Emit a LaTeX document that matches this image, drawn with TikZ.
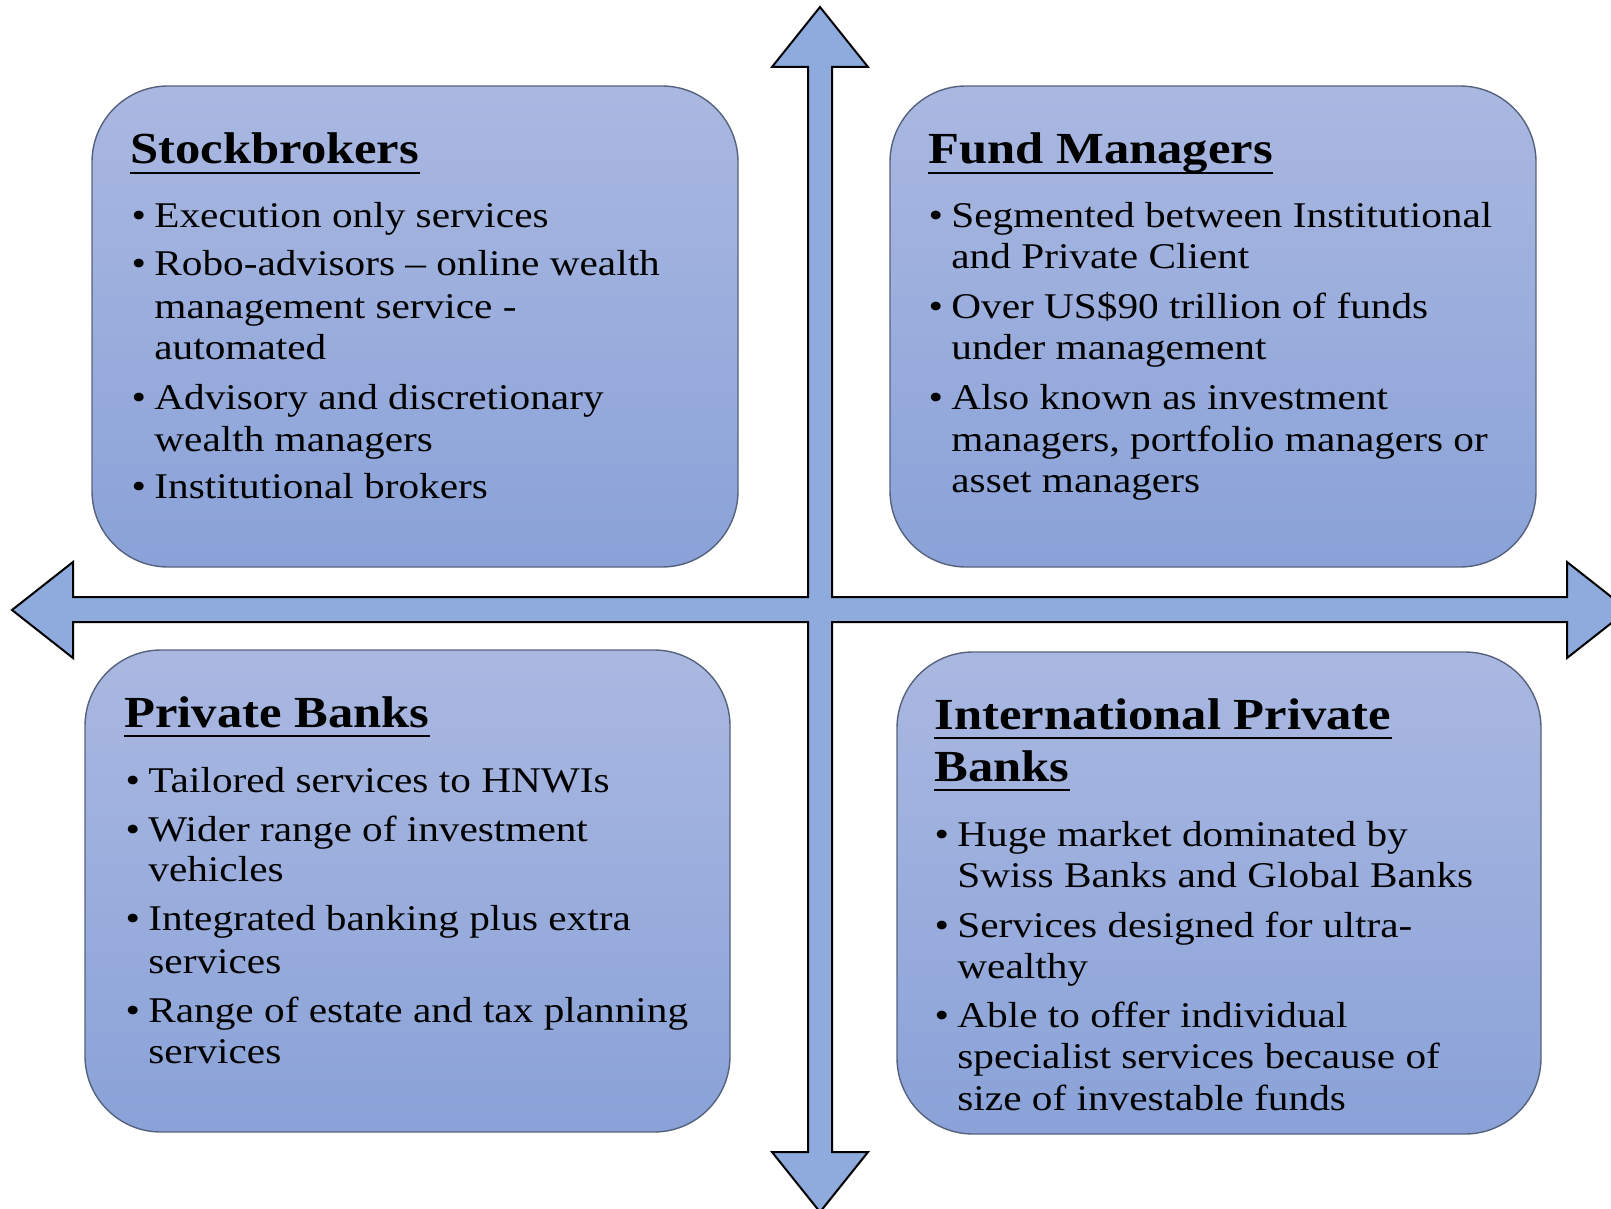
\documentclass[tikz,border=0pt]{standalone}
\usepackage{fontspec}
\setmainfont{Liberation Serif}[FakeStretch=1.14]
\definecolor{arrowfill}{HTML}{8FAADC}
\definecolor{boxtop}{HTML}{AAB8E1}
\definecolor{boxbot}{HTML}{8AA2D8}
\definecolor{boxline}{HTML}{56627C}
\tikzset{
  quad/.style={rectangle, rounded corners=38pt, draw=boxline, line width=0.7pt,
    top color=boxtop, bottom color=boxbot, inner sep=0pt},
  body/.style={anchor=base west, inner sep=0pt, font=\fontsize{18.1}{21}\selectfont},
  ttl/.style={anchor=base west, inner sep=0pt, font=\fontsize{22.2}{26}\selectfont\bfseries},
  uline/.style={line width=1.25pt},
  bigarrow/.style={draw=black, line width=1pt, fill=arrowfill, line join=miter}
}
\newcommand{\bul}{\llap{\textbullet\hspace{4.2pt}}}
\begin{document}
\begin{tikzpicture}[x=0.5pt,y=-0.5pt]
\useasboundingbox (0,0) rectangle (1611,1209);
% cross arrow
\draw[bigarrow] (820,7) -- (868,67) -- (832,67) -- (832,597) -- (1567,597) -- (1567,562) -- (1628,610) -- (1567,658) -- (1567,622) -- (832,622) -- (832,1152) -- (868,1152) -- (820,1212) -- (772,1152) -- (808,1152) -- (808,622) -- (73,622) -- (73,658) -- (12,610) -- (73,562) -- (73,597) -- (808,597) -- (808,67) -- (772,67) -- cycle;
% boxes
\node[quad, minimum width=323pt, minimum height=240.5pt] (tlbox) at (415,326.5) {};
\node[quad, minimum width=323pt, minimum height=240.5pt] (trbox) at (1213,326.5) {};
\node[quad, minimum width=322.5pt, minimum height=241pt] (blbox) at (407.5,891) {};
\node[quad, minimum width=322pt, minimum height=241pt] (brbox) at (1219,893) {};
% titles
\node[ttl] (t1) at (130,164) {Stockbrokers};
\node[ttl] (t2) at (928,164) {Fund Managers};
\node[ttl] (t3) at (124,727) {Private Banks};
\node[ttl] (t4a) at (934,729) {International Private};
\node[ttl] (t4b) at (934,781) {Banks};
\foreach \n in {t1,t2,t3,t4a,t4b}
  \draw[uline] ([yshift=-4.5pt]\n.base west) -- ([yshift=-4.5pt]\n.base east);
% top-left
\node[body] (a1) at (154,228) {\bul Execution only services};
\node[body] (a2) at (154,276) {\bul Robo-advisors – online wealth};
\node[body] (a3) at (154,318) {management service -};
\node[body] (a4) at (154,359) {automated};
\node[body] (a5) at (154,409) {\bul Advisory and discretionary};
\node[body] (a6) at (154,451) {wealth managers};
\node[body] (a7) at (154,498) {\bul Institutional brokers};
% top-right
\node[body] (b1) at (951,228) {\bul Segmented between Institutional};
\node[body] (b2) at (951,269) {and Private Client};
\node[body] (b3) at (951,318) {\bul Over US\$90 trillion of funds};
\node[body] (b4) at (951,359) {under management};
\node[body] (b5) at (951,409) {\bul Also known as investment};
\node[body] (b6) at (951,451) {managers, portfolio managers or};
\node[body] (b7) at (951,492) {asset managers};
% bottom-left
\node[body] (c1) at (148,792) {\bul Tailored services to HNWIs};
\node[body] (c2) at (148,841) {\bul Wider range of investment};
\node[body] (c3) at (148,881) {vehicles};
\node[body] (c4) at (148,930) {\bul Integrated banking plus extra};
\node[body] (c5) at (148,973) {services};
\node[body] (c6) at (148,1022) {\bul Range of estate and tax planning};
\node[body] (c7) at (148,1063) {services};
% bottom-right
\node[body] (d1) at (957,846) {\bul Huge market dominated by};
\node[body] (d2) at (957,887) {Swiss Banks and Global Banks};
\node[body] (d3) at (957,937) {\bul Services designed for ultra-};
\node[body] (d4) at (957,978) {wealthy};
\node[body] (d5) at (957,1027) {\bul Able to offer individual};
\node[body] (d6) at (957,1068) {specialist services because of};
\node[body] (d7) at (957,1110) {size of investable funds};
\end{tikzpicture}
\end{document}
